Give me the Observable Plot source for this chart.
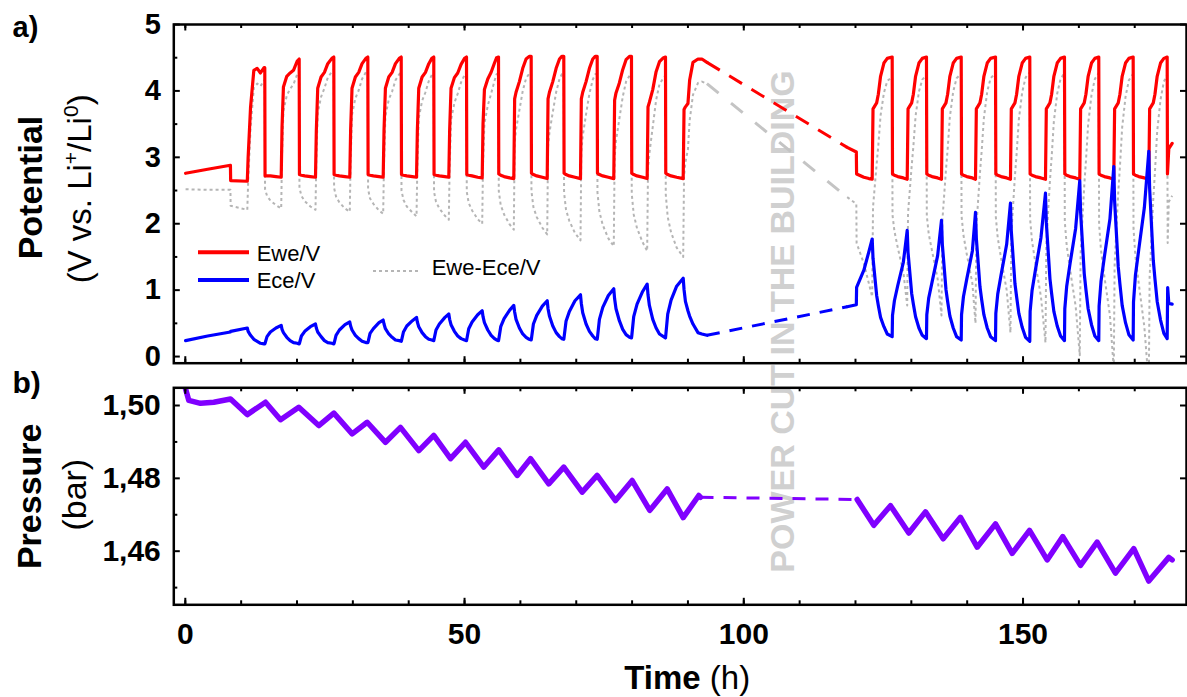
<!DOCTYPE html>
<html><head><meta charset="utf-8">
<script src="https://cdn.jsdelivr.net/npm/d3@7"></script>
<script src="https://cdn.jsdelivr.net/npm/@observablehq/plot@0.6"></script>
<style>
body{margin:0;background:#fff;}
#fig{position:relative;width:1187px;height:697px;overflow:hidden;background:#fff;}
</style></head><body><div id="fig"></div>
<script>
// ---------------- DATA (time in h, value) ----------------
const timeTicks = [0, 50, 100, 150];
const timeMinorTicks = [0,10,20,30,40,50,60,70,80,90,100,110,120,130,140,150,160,170];
const potentialTicks = [0,1,2,3,4,5];
const potentialMinorTicks = [0.5,1.5,2.5,3.5,4.5];
const pressureTicks = [1.46, 1.48, 1.50];
const pressureTickLabels = ["1,46", "1,48", "1,50"];
const pressureMinorTicks = [1.45, 1.47, 1.49];
const seriesNames = ["Ewe/V", "Ece/V", "Ewe-Ece/V"];

// Ewe/V (red), before the power cut
const ewe1 = [[0.05,2.76],[4.0,2.82],[8.08,2.88],[8.12,2.65],
[11.10,2.64],[11.25,3.00],[11.68,3.75],[12.27,4.31],[12.87,4.34],[13.46,4.27],[14.10,4.35],[14.23,4.35],
[14.28,2.72],[14.63,2.72],[15.23,2.72],[16.23,2.71],
[17.17,2.70],[17.32,3.45],[17.57,4.06],[18.17,4.22],[18.77,4.27],[19.37,4.31],[20.04,4.45],[20.39,4.48],
[20.44,2.74],[20.79,2.73],[21.39,2.72],[22.39,2.71],
[23.31,2.70],[23.46,3.40],[23.71,4.04],[24.31,4.21],[24.91,4.28],[25.51,4.41],[26.24,4.49],[26.59,4.51],
[26.64,2.74],[26.99,2.73],[27.59,2.72],[28.59,2.71],
[29.45,2.70],[29.60,3.40],[29.85,4.04],[30.45,4.21],[31.05,4.28],[31.65,4.41],[32.33,4.49],[32.68,4.51],
[32.73,2.74],[33.08,2.73],[33.68,2.72],[34.68,2.71],
[35.43,2.70],[35.58,3.40],[35.83,4.04],[36.43,4.21],[37.03,4.28],[37.63,4.41],[38.31,4.49],[38.66,4.51],
[38.71,2.74],[39.06,2.73],[39.66,2.72],[40.66,2.71],
[41.40,2.70],[41.55,3.40],[41.80,4.04],[42.40,4.21],[43.00,4.28],[43.60,4.41],[44.14,4.49],[44.49,4.51],
[44.54,2.74],[44.89,2.73],[45.49,2.72],[46.49,2.71],
[47.18,2.70],[47.33,3.40],[47.58,4.04],[48.18,4.20],[48.78,4.27],[49.38,4.40],[50.00,4.49],[50.35,4.51],
[50.40,2.74],[50.75,2.73],[51.35,2.72],[52.35,2.70],
[53.16,2.69],[53.31,3.50],[53.56,4.02],[54.16,4.18],[54.76,4.28],[55.36,4.42],[55.73,4.50],[56.08,4.51],
[56.13,2.75],[56.48,2.73],[57.08,2.71],[58.08,2.69],
[58.82,2.68],[58.97,3.88],[59.22,3.98],[59.82,4.14],[60.42,4.34],[61.02,4.48],[61.58,4.52],[61.93,4.52],
[61.98,2.76],[62.33,2.74],[62.93,2.72],[63.93,2.70],
[64.80,2.68],[64.95,3.88],[65.20,3.98],[65.80,4.14],[66.40,4.34],[67.00,4.48],[67.42,4.52],[67.77,4.52],
[67.82,2.76],[68.17,2.74],[68.77,2.72],[69.77,2.70],
[70.76,2.68],[70.91,3.88],[71.16,3.98],[71.76,4.14],[72.36,4.34],[72.96,4.48],[73.40,4.52],[73.75,4.52],
[73.80,2.76],[74.15,2.74],[74.75,2.72],[75.75,2.70],
[76.72,2.68],[76.87,3.86],[77.12,3.97],[77.72,4.12],[78.32,4.32],[78.92,4.47],[79.54,4.52],[79.89,4.52],
[79.94,2.76],[80.29,2.74],[80.89,2.72],[81.89,2.70],
[82.70,2.68],[82.85,3.76],[83.10,3.83],[83.70,4.02],[84.30,4.29],[84.90,4.44],[85.63,4.50],[85.98,4.51],
[86.03,2.76],[86.38,2.74],[86.98,2.72],[87.98,2.70],
[89.15,2.68],[89.30,3.72],[89.55,3.76],[90.00,3.81],[90.30,4.16],[90.90,4.43],[91.80,4.48],[92.50,4.48],[93.40,4.43]];
const eweGap = [[93.40,4.43],[118.51,3.15]];
const ewe2 = [[118.51,3.15],[120.15,3.08],[120.20,2.75],[121.50,2.70],[122.40,2.68],
[122.99,2.67],[123.14,3.73],[123.79,3.82],[124.09,3.95],[124.49,4.22],[125.09,4.42],[125.69,4.49],[126.57,4.51],
[126.63,2.75],[126.97,2.73],[127.57,2.71],[128.57,2.69],
[129.26,2.67],[129.41,3.73],[130.06,3.82],[130.36,3.95],[130.76,4.22],[131.36,4.42],[131.96,4.49],[132.71,4.51],
[132.77,2.75],[133.11,2.73],[133.71,2.71],[134.71,2.69],
[135.40,2.67],[135.55,3.73],[136.20,3.82],[136.50,3.95],[136.90,4.22],[137.50,4.42],[138.10,4.49],[138.93,4.51],
[138.99,2.75],[139.33,2.73],[139.93,2.71],[140.93,2.69],
[141.49,2.67],[141.64,3.73],[142.29,3.82],[142.59,3.95],[142.99,4.22],[143.59,4.42],[144.19,4.49],[145.07,4.51],
[145.13,2.75],[145.47,2.73],[146.07,2.71],[147.07,2.69],
[147.75,2.67],[147.90,3.73],[148.55,3.82],[148.85,3.95],[149.25,4.22],[149.85,4.42],[150.45,4.49],[151.21,4.51],
[151.27,2.75],[151.61,2.73],[152.21,2.71],[153.21,2.69],
[154.02,2.67],[154.17,3.73],[154.82,3.82],[155.12,3.95],[155.52,4.22],[156.12,4.42],[156.72,4.49],[157.42,4.51],
[157.48,2.75],[157.82,2.73],[158.42,2.71],[159.42,2.69],
[160.16,2.67],[160.31,3.73],[160.96,3.82],[161.26,3.95],[161.66,4.22],[162.26,4.42],[162.86,4.49],[163.56,4.51],
[163.62,2.75],[163.96,2.73],[164.56,2.71],[165.56,2.69],
[166.25,2.67],[166.40,3.73],[167.05,3.82],[167.35,3.95],[167.75,4.22],[168.35,4.42],[168.95,4.49],[169.72,4.51],
[169.78,2.75],[170.12,2.73],[170.72,2.71],[171.72,2.69],
[172.52,2.67],[172.67,3.73],[173.32,3.82],[173.62,3.95],[174.02,4.22],[174.62,4.42],[175.22,4.49],[175.81,4.51],
[175.86,2.75],[176.10,3.13],[176.70,3.21]];

// Ece/V (blue)
const ece1 = [[0.05,0.24],[4.0,0.31],[8.08,0.37],[8.12,0.38],
[11.10,0.43],[11.25,0.38],[11.68,0.32],[12.27,0.26],[12.87,0.23],[13.46,0.20],[14.10,0.19],[14.23,0.19],
[14.28,0.20],[14.63,0.30],[15.23,0.37],[16.23,0.43],
[17.17,0.47],[17.32,0.41],[17.57,0.36],[18.17,0.29],[18.77,0.24],[19.37,0.21],[20.04,0.20],[20.39,0.19],
[20.44,0.20],[20.79,0.31],[21.39,0.38],[22.39,0.45],
[23.31,0.49],[23.46,0.43],[23.71,0.37],[24.31,0.30],[24.91,0.24],[25.51,0.21],[26.24,0.20],[26.59,0.19],
[26.64,0.20],[26.99,0.32],[27.59,0.40],[28.59,0.48],
[29.45,0.52],[29.60,0.46],[29.85,0.40],[30.45,0.32],[31.05,0.27],[31.65,0.23],[32.33,0.21],[32.68,0.21],
[32.73,0.22],[33.08,0.35],[33.68,0.42],[34.68,0.51],
[35.43,0.55],[35.58,0.49],[35.83,0.42],[36.43,0.34],[37.03,0.29],[37.63,0.25],[38.31,0.24],[38.66,0.23],
[38.71,0.24],[39.06,0.37],[39.66,0.46],[40.66,0.54],
[41.40,0.59],[41.55,0.52],[41.80,0.45],[42.40,0.36],[43.00,0.30],[43.60,0.26],[44.14,0.25],[44.49,0.24],
[44.54,0.26],[44.89,0.40],[45.49,0.49],[46.49,0.59],
[47.18,0.64],[47.33,0.56],[47.58,0.48],[48.18,0.38],[48.78,0.31],[49.38,0.27],[50.00,0.25],[50.35,0.24],
[50.40,0.26],[50.75,0.42],[51.35,0.52],[52.35,0.63],
[53.16,0.69],[53.31,0.60],[53.56,0.51],[54.16,0.40],[54.76,0.32],[55.36,0.27],[55.73,0.25],[56.08,0.24],
[56.13,0.26],[56.48,0.45],[57.08,0.57],[58.08,0.70],
[58.82,0.77],[58.97,0.67],[59.22,0.56],[59.82,0.43],[60.42,0.34],[61.02,0.29],[61.58,0.26],[61.93,0.25],
[61.98,0.27],[62.33,0.49],[62.93,0.62],[63.93,0.76],
[64.80,0.84],[64.95,0.72],[65.20,0.61],[65.80,0.46],[66.40,0.36],[67.00,0.30],[67.42,0.27],[67.77,0.26],
[67.82,0.29],[68.17,0.53],[68.77,0.68],[69.77,0.84],
[70.76,0.93],[70.91,0.80],[71.16,0.66],[71.76,0.49],[72.36,0.38],[72.96,0.31],[73.40,0.27],[73.75,0.26],
[73.80,0.29],[74.15,0.56],[74.75,0.74],[75.75,0.92],
[76.72,1.02],[76.87,0.87],[77.12,0.72],[77.72,0.54],[78.32,0.41],[78.92,0.33],[79.54,0.29],[79.89,0.28],
[79.94,0.31],[80.29,0.60],[80.89,0.79],[81.89,0.98],
[82.70,1.09],[82.85,0.93],[83.10,0.77],[83.70,0.56],[84.30,0.43],[84.90,0.34],[85.63,0.30],[85.98,0.28],
[86.03,0.32],[86.38,0.64],[86.98,0.85],[87.98,1.06],
[89.15,1.18],[89.30,1.01],[89.55,0.83],[90.00,0.69],[90.30,0.61],[90.90,0.49],[91.80,0.36],[92.50,0.34],[93.40,0.32]];
const eceGap = [[93.40,0.32],[118.51,0.75]];
const ece2 = [[118.51,0.75],[120.15,0.78],[120.20,1.04],[121.50,1.30],[122.40,1.58],
[122.99,1.77],[123.14,1.48],[123.79,0.92],[124.09,0.77],[124.49,0.59],[125.09,0.45],[125.69,0.34],[126.57,0.30],
[126.63,0.62],[126.97,0.84],[127.57,1.07],[128.57,1.42],
[129.26,1.90],[129.41,1.57],[130.06,0.95],[130.36,0.79],[130.76,0.60],[131.36,0.43],[131.96,0.32],[132.71,0.27],
[132.77,0.63],[133.11,0.88],[133.71,1.12],[134.71,1.52],
[135.40,2.05],[135.55,1.69],[136.20,1.01],[136.50,0.83],[136.90,0.61],[137.50,0.43],[138.10,0.30],[138.93,0.25],
[138.99,0.63],[139.33,0.90],[139.93,1.17],[140.93,1.59],
[141.49,2.17],[141.64,1.78],[142.29,1.05],[142.59,0.86],[142.99,0.63],[143.59,0.43],[144.19,0.30],[145.07,0.24],
[145.13,0.65],[145.47,0.94],[146.07,1.23],[147.07,1.69],
[147.75,2.31],[147.90,1.89],[148.55,1.10],[148.85,0.90],[149.25,0.65],[149.85,0.44],[150.45,0.29],[151.21,0.23],
[151.27,0.68],[151.61,0.99],[152.21,1.30],[153.21,1.79],
[154.02,2.46],[154.17,2.02],[154.82,1.17],[155.12,0.95],[155.52,0.68],[156.12,0.46],[156.72,0.31],[157.42,0.24],
[157.48,0.72],[157.82,1.06],[158.42,1.40],[159.42,1.93],
[160.16,2.65],[160.31,2.17],[160.96,1.25],[161.26,1.01],[161.66,0.72],[162.26,0.48],[162.86,0.31],[163.56,0.24],
[163.62,0.76],[163.96,1.13],[164.56,1.50],[165.56,2.07],
[166.25,2.86],[166.40,2.34],[167.05,1.35],[167.35,1.09],[167.75,0.77],[168.35,0.51],[168.95,0.33],[169.72,0.25],
[169.78,0.82],[170.12,1.22],[170.72,1.61],[171.72,2.24],
[172.52,3.09],[172.67,2.53],[173.32,1.45],[173.62,1.17],[174.02,0.83],[174.62,0.55],[175.22,0.35],[175.81,0.27],
[175.90,1.04],[176.10,0.80],[176.70,0.79]];

// Ewe-Ece/V (grey dotted)
const diff1 = [[0.05,2.52],[4.0,2.51],[8.08,2.51],[8.12,2.27],
[11.10,2.21],[11.25,2.62],[11.68,3.43],[12.27,4.05],[12.87,4.11],[13.46,4.07],[14.10,4.16],[14.23,4.16],
[14.28,2.52],[14.63,2.42],[15.23,2.35],[16.23,2.28],
[17.17,2.23],[17.32,3.04],[17.57,3.70],[18.17,3.93],[18.77,4.03],[19.37,4.10],[20.04,4.25],[20.39,4.29],
[20.44,2.54],[20.79,2.42],[21.39,2.34],[22.39,2.26],
[23.31,2.21],[23.46,2.97],[23.71,3.67],[24.31,3.91],[24.91,4.04],[25.51,4.20],[26.24,4.29],[26.59,4.32],
[26.64,2.54],[26.99,2.41],[27.59,2.32],[28.59,2.23],
[29.45,2.18],[29.60,2.94],[29.85,3.64],[30.45,3.89],[31.05,4.01],[31.65,4.18],[32.33,4.28],[32.68,4.30],
[32.73,2.52],[33.08,2.38],[33.68,2.30],[34.68,2.20],
[35.43,2.15],[35.58,2.91],[35.83,3.62],[36.43,3.87],[37.03,3.99],[37.63,4.16],[38.31,4.25],[38.66,4.28],
[38.71,2.50],[39.06,2.36],[39.66,2.26],[40.66,2.17],
[41.40,2.11],[41.55,2.88],[41.80,3.59],[42.40,3.85],[43.00,3.98],[43.60,4.15],[44.14,4.24],[44.49,4.27],
[44.54,2.48],[44.89,2.33],[45.49,2.23],[46.49,2.12],
[47.18,2.06],[47.33,2.84],[47.58,3.56],[48.18,3.82],[48.78,3.96],[49.38,4.13],[50.00,4.24],[50.35,4.27],
[50.40,2.48],[50.75,2.31],[51.35,2.20],[52.35,2.07],
[53.16,2.00],[53.31,2.90],[53.56,3.51],[54.16,3.78],[54.76,3.96],[55.36,4.15],[55.73,4.25],[56.08,4.27],
[56.13,2.49],[56.48,2.28],[57.08,2.14],[58.08,1.99],
[58.82,1.91],[58.97,3.21],[59.22,3.42],[59.82,3.71],[60.42,4.00],[61.02,4.19],[61.58,4.26],[61.93,4.27],
[61.98,2.49],[62.33,2.25],[62.93,2.10],[63.93,1.94],
[64.80,1.84],[64.95,3.16],[65.20,3.37],[65.80,3.68],[66.40,3.98],[67.00,4.18],[67.42,4.25],[67.77,4.26],
[67.82,2.47],[68.17,2.21],[68.77,2.04],[69.77,1.86],
[70.76,1.75],[70.91,3.08],[71.16,3.32],[71.76,3.65],[72.36,3.96],[72.96,4.17],[73.40,4.25],[73.75,4.26],
[73.80,2.47],[74.15,2.18],[74.75,1.98],[75.75,1.78],
[76.72,1.66],[76.87,2.99],[77.12,3.25],[77.72,3.58],[78.32,3.91],[78.92,4.14],[79.54,4.23],[79.89,4.24],
[79.94,2.45],[80.29,2.14],[80.89,1.93],[81.89,1.72],
[82.70,1.59],[82.85,2.83],[83.10,3.06],[83.70,3.46],[84.30,3.86],[84.90,4.10],[85.63,4.20],[85.98,4.23],
[86.03,2.44],[86.38,2.10],[86.98,1.87],[87.98,1.64],
[89.15,1.50],[89.30,2.71],[89.55,2.93],[90.00,3.12],[90.30,3.55],[90.90,3.94],[91.80,4.12],[92.50,4.14],[93.40,4.11]];
const diffGap = [[93.40,4.11],[118.51,2.40]];
const diff2 = [[118.51,2.40],[120.15,2.30],[120.20,1.71],[121.50,1.40],[122.40,1.10],
[122.99,0.90],[123.14,2.25],[123.79,2.90],[124.09,3.18],[124.49,3.63],[125.09,3.97],[125.69,4.15],[126.57,4.21],
[126.63,2.13],[126.97,1.89],[127.57,1.64],[128.57,1.27],
[129.26,0.77],[129.41,2.16],[130.06,2.87],[130.36,3.16],[130.76,3.62],[131.36,3.99],[131.96,4.17],[132.71,4.24],
[132.77,2.12],[133.11,1.85],[133.71,1.59],[134.71,1.17],
[135.40,0.62],[135.55,2.04],[136.20,2.81],[136.50,3.12],[136.90,3.61],[137.50,3.99],[138.10,4.19],[138.93,4.26],
[138.99,2.12],[139.33,1.83],[139.93,1.54],[140.93,1.10],
[141.49,0.50],[141.64,1.95],[142.29,2.77],[142.59,3.09],[142.99,3.59],[143.59,3.99],[144.19,4.19],[145.07,4.27],
[145.13,2.10],[145.47,1.79],[146.07,1.48],[147.07,1.00],
[147.75,0.36],[147.90,1.84],[148.55,2.72],[148.85,3.05],[149.25,3.57],[149.85,3.98],[150.45,4.20],[151.21,4.28],
[151.27,2.07],[151.61,1.74],[152.21,1.41],[153.21,0.90],
[154.02,0.21],[154.17,1.71],[154.82,2.65],[155.12,3.00],[155.52,3.54],[156.12,3.96],[156.72,4.18],[157.42,4.27],
[157.48,2.03],[157.82,1.67],[158.42,1.31],[159.42,0.76],
[160.16,0.02],[160.31,1.56],[160.96,2.57],[161.26,2.94],[161.66,3.50],[162.26,3.94],[162.86,4.18],[163.56,4.27],
[163.62,1.99],[163.96,1.60],[164.56,1.21],[165.56,0.62],
[166.25,-0.19],[166.40,1.39],[167.05,2.47],[167.35,2.86],[167.75,3.45],[168.35,3.91],[168.95,4.16],[169.72,4.26],
[169.78,1.93],[170.12,1.51],[170.72,1.10],[171.72,0.45],
[172.52,-0.42],[172.67,1.20],[173.32,2.37],[173.62,2.78],[174.02,3.39],[174.62,3.87],[175.22,4.14],[175.81,4.24],
[175.90,1.71],[176.10,2.33],[176.70,2.42]];

// Pressure (bar)
const pressure1 = [[0.04,1.5046],[0.63,1.5014],[2.72,1.5006],[5.10,1.5009],[8.10,1.5018],[11.08,1.4975],[14.36,1.5009],
[17.05,1.4961],[20.32,1.4995],[23.90,1.4945],[26.60,1.4979],[29.88,1.4922],[32.57,1.4954],[35.85,1.4899],[38.53,1.4940],
[41.81,1.4876],[44.49,1.4918],[47.49,1.4854],[50.17,1.4899],[53.45,1.4831],[56.13,1.4878],[59.43,1.4808],[61.81,1.4854],
[65.08,1.4785],[67.77,1.4831],[71.06,1.4762],[73.75,1.4808],[77.03,1.4739],[80.02,1.4794],[83.17,1.4712],[86.28,1.4771],
[89.15,1.4692],[91.94,1.4753],[92.25,1.4748]];
const pressureGap = [[92.25,1.4748],[120.30,1.4742]];
const pressure2 = [[120.30,1.4742],[123.28,1.4671],[126.27,1.4725],[129.55,1.4650],[132.53,1.4708],[135.70,1.4634],
[138.80,1.4693],[141.79,1.4611],[145.07,1.4675],[148.06,1.4594],[151.16,1.4657],[154.32,1.4576],[157.12,1.4640],
[160.29,1.4561],[163.27,1.4625],[166.55,1.4540],[169.83,1.4607],[172.52,1.4518],[176.10,1.4583],[176.70,1.4576]];

// ---------------- LAYOUT / STYLE ----------------
const FONT = '"Liberation Sans", Arial, Helvetica, sans-serif';
const W = 1187, ML = 173.3, MR = 1;
const xDomain = [-2.06, 179.27];
const TOP = {h: 375, mt: 24, mb: 12.3};
const BOT = {h: 322, mt: 12.3, mb: 92.7};
const frameW = W - ML - MR;
const topFrameH = TOP.h - TOP.mt - TOP.mb;
const botFrameH = BOT.h - BOT.mt - BOT.mb;
const RED = "#ff0000", BLUE = "#0000ff", PURPLE = "#8000ff", GREY = "#b5b5b5";

const ln = (data, stroke, opts = {}) =>
  Plot.line(data, {x: d => d[0], y: d => d[1], stroke, strokeWidth: 3.2, clip: true, ...opts});

function ticks(frameH, yMajor, yMinor) {
  const o = {strokeWidth: 2, stroke: "black"};
  return [
    Plot.ruleX(timeMinorTicks, {x: d => d, insetBottom: frameH - 4, ...o}),
    Plot.ruleX(timeTicks, {x: d => d, insetBottom: frameH - 6.5, ...o}),
    Plot.ruleX(timeMinorTicks, {x: d => d, insetTop: frameH - 4, ...o}),
    Plot.ruleX(timeTicks, {x: d => d, insetTop: frameH - 6.5, ...o}),
    Plot.ruleY(yMinor, {y: d => d, insetRight: frameW - 4, ...o}),
    Plot.ruleY(yMajor, {y: d => d, insetRight: frameW - 6.5, ...o}),
    Plot.ruleY(yMajor, {y: d => d, insetLeft: frameW - 6, ...o})
  ];
}

const svgStyle = (top) => ({position: "absolute", left: "0px", top: top + "px", background: "transparent", overflow: "visible", fontFamily: FONT});

const topPlot = Plot.plot({
  width: W, height: TOP.h,
  marginLeft: ML, marginRight: MR, marginTop: TOP.mt, marginBottom: TOP.mb,
  x: {domain: xDomain, axis: null},
  y: {domain: [-0.10, 5], axis: null},
  style: svgStyle(0),
  marks: [
    Plot.text(["POWER CUT IN THE BUILDING"], {frameAnchor: "top-left", text: d => d, dx: 619.7, dy: 297,
      rotate: -90, textAnchor: "middle", lineAnchor: "bottom", fill: "#d0d0d0", fontSize: 34, fontWeight: "bold"}),
    ln(diff1, GREY, {strokeWidth: 2, strokeDasharray: "3,3", strokeLinecap: "butt"}),
    ln(diff2, GREY, {strokeWidth: 2, strokeDasharray: "3,3", strokeLinecap: "butt"}),
    ln(diffGap, "#c4c4c4", {strokeWidth: 3, strokeDasharray: "15,16", strokeLinecap: "butt"}),
    ln(ewe1, RED), ln(ewe2, RED),
    ln(eweGap, RED, {strokeWidth: 3, strokeDasharray: "15,11", strokeLinecap: "butt"}),
    ln(ece1, BLUE), ln(ece2, BLUE),
    ln(eceGap, BLUE, {strokeWidth: 3, strokeDasharray: "13,10", strokeLinecap: "butt"}),
    Plot.frame({stroke: "black", strokeWidth: 2.5}),
    ...ticks(topFrameH, potentialTicks, potentialMinorTicks),
    Plot.axisY({ticks: potentialTicks, tickSize: 0, tickPadding: 13, tickFormat: d => String(d),
      fontSize: 29, fontWeight: "bold", label: null, anchor: "left"}),
    Plot.text(["Potential"], {frameAnchor: "left", text: d => d, rotate: -90, textAnchor: "middle",
      lineAnchor: "bottom", dx: -131.6, dy: -6.3, fontSize: 34, fontWeight: "bold", fill: "black"}),
    Plot.text(["(V vs. Li+/Li0)"], {frameAnchor: "left", text: d => d, rotate: -90, textAnchor: "middle",
      lineAnchor: "bottom", dx: -83.3, dy: -5, fontSize: 33, fill: "black"}),
    Plot.text(["a)"], {frameAnchor: "top-left", text: d => d, textAnchor: "start", lineAnchor: "bottom",
      dx: -161.3, dy: 12, fontSize: 29, fontWeight: "bold", fill: "black"})
  ]
});

const botPlot = Plot.plot({
  width: W, height: BOT.h,
  marginLeft: ML, marginRight: MR, marginTop: BOT.mt, marginBottom: BOT.mb,
  x: {domain: xDomain, axis: null},
  y: {domain: [1.44528, 1.50486], axis: null},
  style: svgStyle(TOP.h),
  marks: [
    ln(pressure1, PURPLE, {strokeWidth: 5.5}),
    ln(pressure2, PURPLE, {strokeWidth: 5.5}),
    ln(pressureGap, PURPLE, {strokeWidth: 3, strokeDasharray: "13,10", strokeLinecap: "butt"}),
    Plot.frame({stroke: "black", strokeWidth: 2.5}),
    ...ticks(botFrameH, pressureTicks, pressureMinorTicks),
    Plot.axisY({ticks: pressureTicks, tickSize: 0, tickPadding: 13,
      tickFormat: d => pressureTickLabels[pressureTicks.indexOf(d)],
      fontSize: 30, fontWeight: "bold", label: null, anchor: "left"}),
    Plot.axisX({ticks: timeTicks, tickSize: 0, tickPadding: 17.7, tickFormat: d => String(d),
      fontSize: 30, fontWeight: "bold", label: null, anchor: "bottom"}),
    Plot.text(["Pressure"], {frameAnchor: "left", text: d => d, rotate: -90, textAnchor: "middle",
      lineAnchor: "bottom", dx: -133.3, dy: 0, fontSize: 34, fontWeight: "bold", fill: "black"}),
    Plot.text(["(bar)"], {frameAnchor: "left", text: d => d, rotate: -90, textAnchor: "middle",
      lineAnchor: "bottom", dx: -88.3, dy: -1.6, fontSize: 34, fill: "black"}),
    Plot.text(["b)"], {frameAnchor: "top-left", text: d => d, textAnchor: "start", lineAnchor: "bottom",
      dx: -161.3, dy: 4.7, fontSize: 30, fontWeight: "bold", fill: "black"}),
    Plot.text(["Time (h)"], {frameAnchor: "bottom", text: d => d, textAnchor: "middle", lineAnchor: "bottom",
      dx: 7, dy: 84, fontSize: 33, fontWeight: "bold", fill: "black"})
  ]
});

const fig = document.getElementById("fig");
fig.appendChild(topPlot);
fig.appendChild(botPlot);
for (const [el, t] of [[topPlot, 0], [botPlot, TOP.h]]) {
  Object.assign(el.style, svgStyle(t));
}

// rich text (superscripts / mixed weights)
function rewrite(svg, content, build) {
  d3.select(svg).selectAll("text").filter(function () { return this.textContent === content; })
    .each(function () { const s = d3.select(this); s.text(null); build(s); });
}
rewrite(topPlot, "(V vs. Li+/Li0)", s => {
  s.append("tspan").text("(V vs. Li");
  s.append("tspan").attr("dy", -13).attr("font-size", 21).text("+");
  s.append("tspan").attr("dy", 13).text("/Li");
  s.append("tspan").attr("dy", -13).attr("font-size", 21).text("0");
  s.append("tspan").attr("dy", 13).text(")");
});
rewrite(botPlot, "Time (h)", s => {
  s.append("tspan").attr("font-weight", "bold").text("Time");
  s.append("tspan").attr("font-weight", "normal").text(" (h)");
});

// legend
const lg = d3.select(topPlot).append("g").attr("font-family", FONT).attr("font-size", 22)
  .attr("fill", "black").attr("text-anchor", "start");
lg.append("line").attr("x1", 198).attr("x2", 249).attr("y1", 252.3).attr("y2", 252.3)
  .attr("stroke", RED).attr("stroke-width", 4);
lg.append("text").attr("x", 256.7).attr("y", 260.7).text(seriesNames[0]);
lg.append("line").attr("x1", 198).attr("x2", 249).attr("y1", 280).attr("y2", 280)
  .attr("stroke", BLUE).attr("stroke-width", 4);
lg.append("text").attr("x", 256.7).attr("y", 288.3).text(seriesNames[1]);
lg.append("line").attr("x1", 373).attr("x2", 421).attr("y1", 271).attr("y2", 271)
  .attr("stroke", GREY).attr("stroke-width", 2).attr("stroke-dasharray", "3,3");
lg.append("text").attr("x", 431.7).attr("y", 275).text(seriesNames[2]);
</script></body></html>
